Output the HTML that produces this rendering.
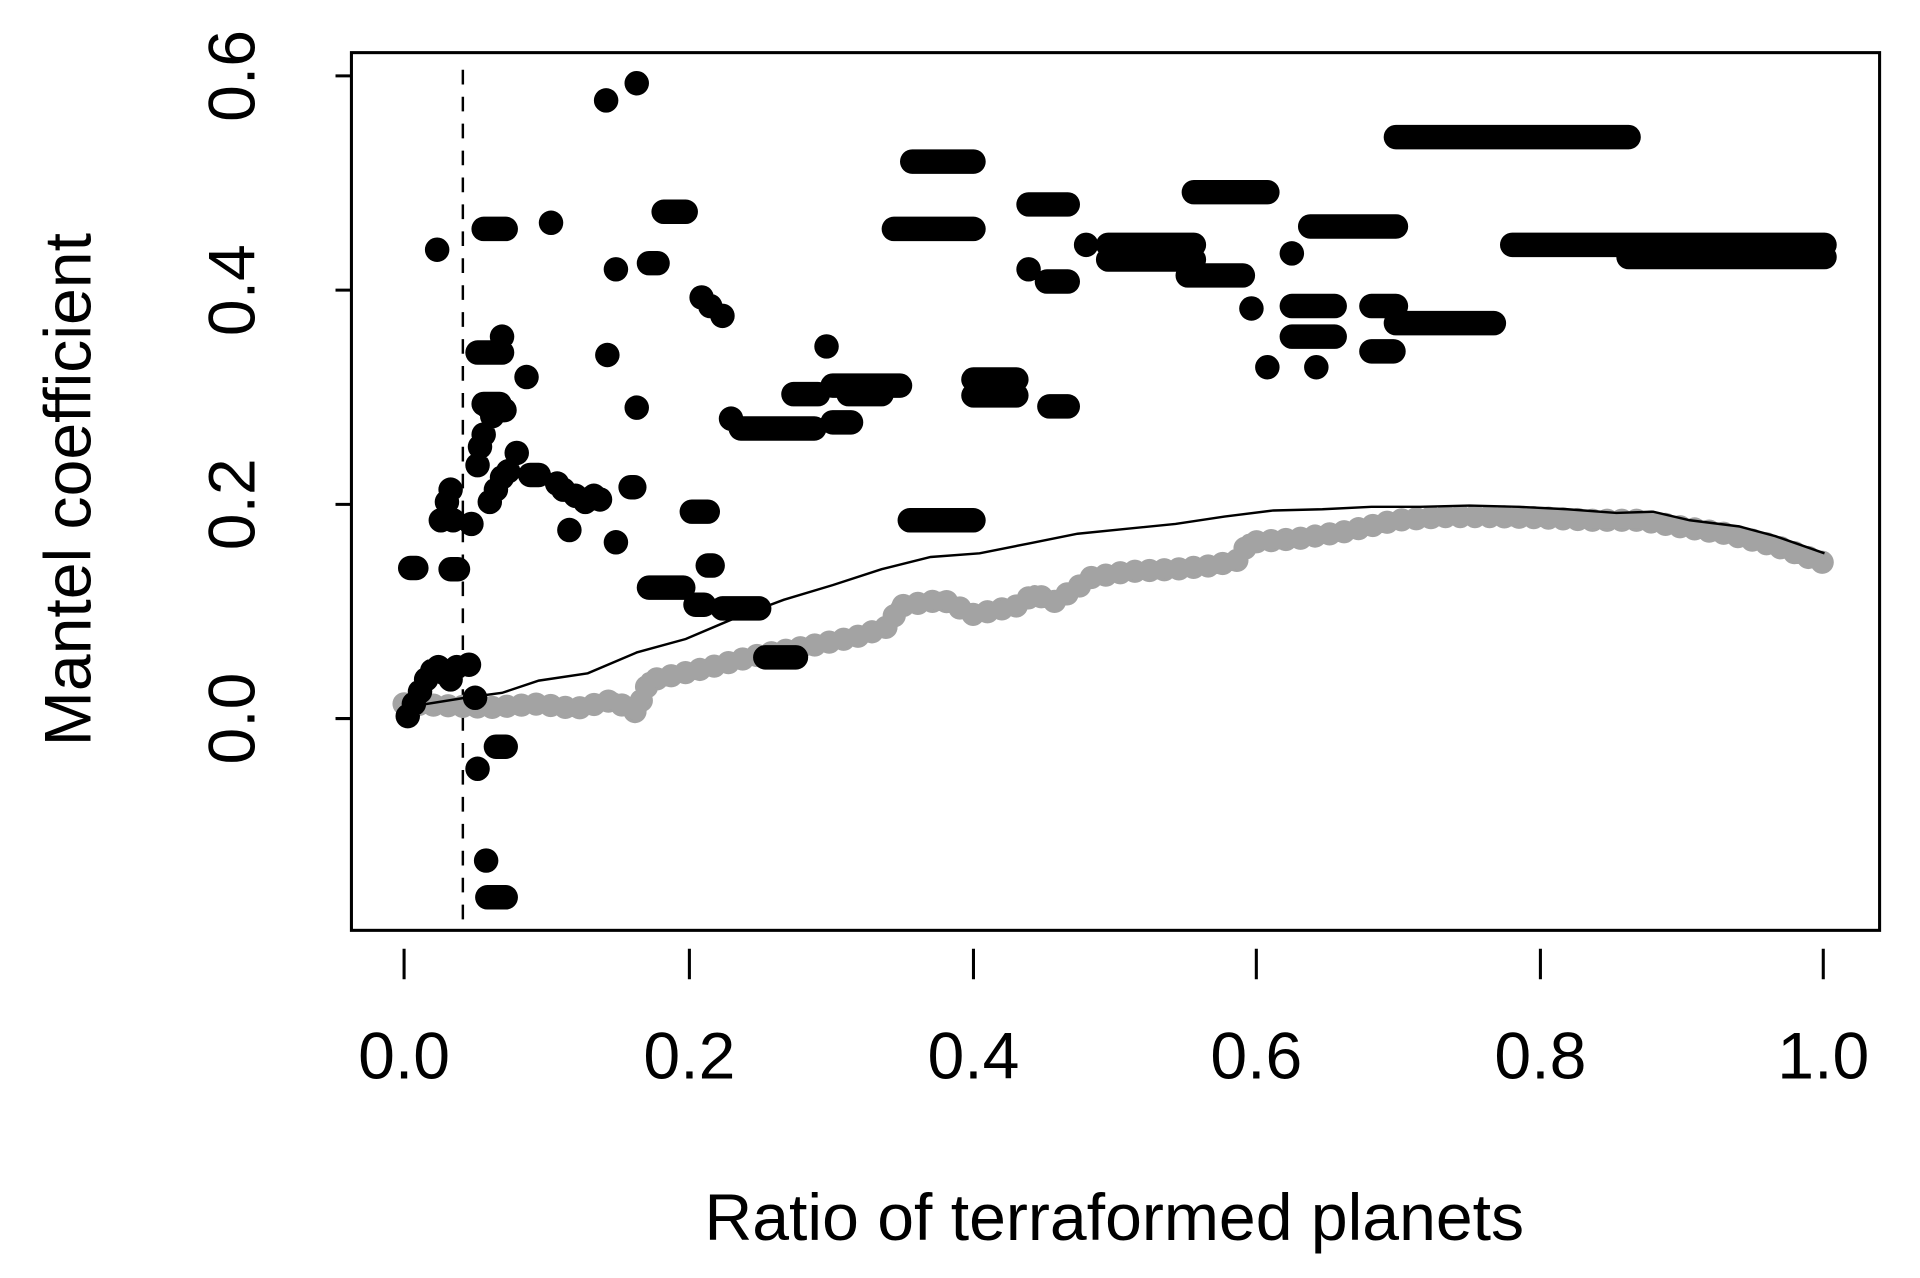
<!DOCTYPE html>
<html><head><meta charset="utf-8"><style>html,body{margin:0;padding:0;background:#fff}svg{display:block}</style></head>
<body>
<svg width="1920" height="1278" viewBox="0 0 1568 1044" preserveAspectRatio="none" xmlns="http://www.w3.org/2000/svg">
<rect width="1568" height="1044" fill="#fff"/>
<g font-family="Liberation Sans, Arial, sans-serif" font-size="54" fill="#000">
<g text-anchor="middle">
<text x="330" y="881">0.0</text><text x="563" y="881">0.2</text><text x="795" y="881">0.4</text>
<text x="1026" y="881">0.6</text><text x="1258" y="881">0.8</text><text x="1489" y="881">1.0</text>
<text x="910" y="1013">Ratio of terraformed planets</text>
<text transform="translate(208,587) rotate(-90)">0.0</text>
<text transform="translate(208,412) rotate(-90)">0.2</text>
<text transform="translate(208,237) rotate(-90)">0.4</text>
<text transform="translate(208,62) rotate(-90)">0.6</text>
<text transform="translate(74,400) rotate(-90)">Mantel coefficient</text>
</g></g>
<g stroke="#000" stroke-width="2.5" fill="none">
<rect x="287" y="43" width="1248" height="717"/>
<path d="M274 62H287M274 237H287M274 412H287M274 587H287M330 775V800M563 775V800M795 775V800M1026 775V800M1258 775V800M1489 775V800"/>
<path d="M378 57V760" stroke-width="2" stroke-dasharray="12,10"/>
</g>
<polyline fill="none" stroke="#a3a3a3" stroke-width="19" stroke-linecap="round" stroke-linejoin="round" stroke-dasharray="0,12" points="330,575 400,578 440,575 470,579 500,572 520,582 530,556 580,545 620,535 660,528 700,520 725,512 735,495 770,490 795,502 830,495 845,485 860,492 880,480 890,472 920,467 960,465 990,462 1010,458 1020,443 1060,440 1100,434 1140,425 1180,422 1220,422 1260,423 1300,425 1340,425 1370,430 1410,436 1450,446 1490,460"/>
<polyline fill="none" stroke="#a3a3a3" stroke-width="14" stroke-linecap="round" stroke-linejoin="round" points="330,575 400,578 440,575 470,579 500,572 520,582 530,556 580,545 620,535 660,528 700,520 725,512 735,495 770,490 795,502 830,495 845,485 860,492 880,480 890,472 920,467 960,465 990,462 1010,458 1020,443 1060,440 1100,434 1140,425 1180,422 1220,422 1260,423 1300,425 1340,425 1370,430 1410,436 1450,446 1490,460"/>
<polyline fill="none" stroke="#000" stroke-width="2" points="330,578 380,570 410,566 440,556 480,550 520,533 560,522 600,505 640,490 680,478 720,465 760,455 800,452 840,444 880,436 920,432 960,428 1000,422 1040,417 1080,416 1120,414 1160,414 1200,413 1240,414 1280,416 1320,419 1350,418 1380,425 1420,430 1450,438 1490,452"/>
<g stroke="#000" stroke-width="20" stroke-linecap="round" fill="none">
<path d="M333 585h0M338 575h0M343 565h0M348 555h0M353 548h0M358 545h0M363 550h0M368 555h0M373 545h0M383 543h0
M335 464H340M357 204h0M360 425h0M365 410h0M368 400h0M370 425h0M368 465H374
M385 428h0M390 380h0M392 365h0M395 355h0M388 570h0M390 628h0M397 703h0M398 733H413M405 610H413
M395 187H413M390 288H410M395 330H408M410 275h0
M400 410h0M405 400h0M410 390h0M415 385h0M422 370h0M430 308h0M398 332h0M402 340h0M412 335h0
M433 388H440M450 182h0M455 395h0M460 400h0M465 433h0M470 405h0M478 410h0M485 405h0M490 408h0
M495 82h0M520 68h0M496 290h0M503 220h0M503 443h0M515 398H518M520 333h0
M530 215H537M542 173H560M530 480H558M565 418H578M573 243h0M580 250h0M590 258h0M568 494H575M578 462H582
M590 497H620M597 342h0M605 350H665M625 537H650M648 322H668M675 283h0M680 345H695M680 315H735M693 322H720
M730 187H795M745 132H795M743 425H795
M795 310H830M795 323H830M840 167H872M840 220h0M855 230H872M857 332H872M887 200h0
M905 200H975M905 212H975M970 225H1015M975 157H1035
M1022 252h0M1035 300h0M1055 207h0M1055 250H1090M1055 275H1090M1075 300h0M1070 185H1140M1120 287H1138M1120 250H1140M1140 264H1220
M1140 112H1330M1235 200H1490M1330 210H1490"/>
</g>
</svg>
</body></html>
